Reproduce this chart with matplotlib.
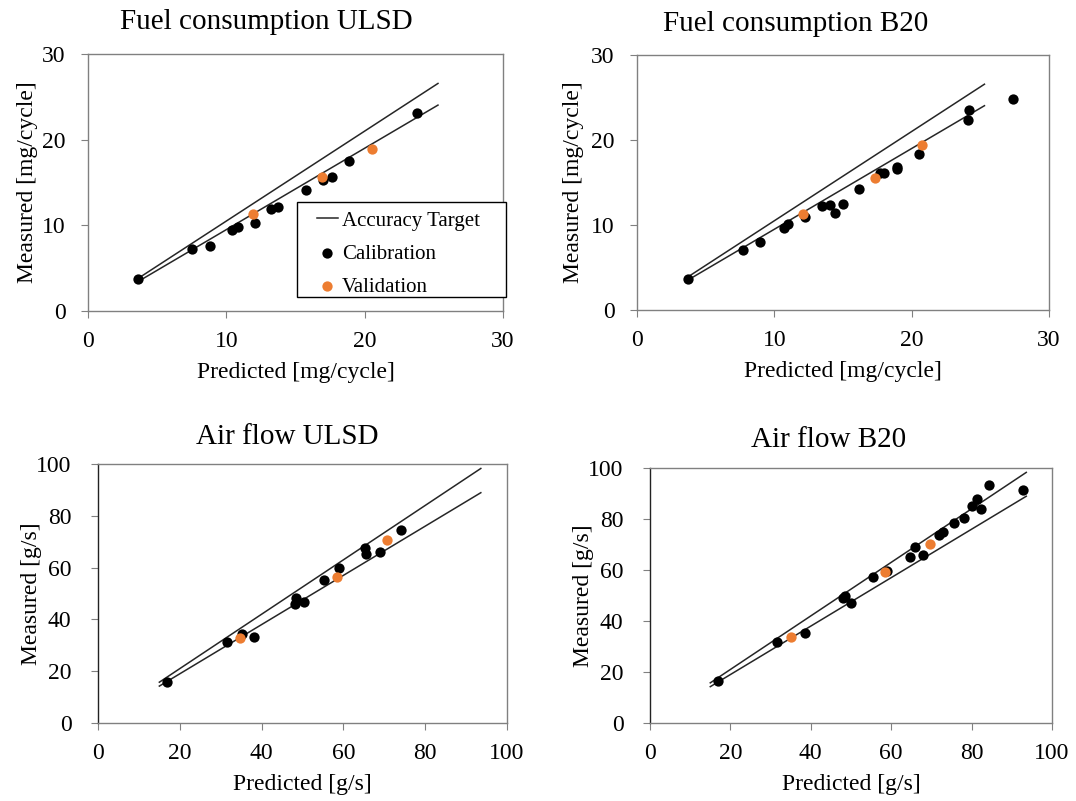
import matplotlib
matplotlib.use("Agg")
import matplotlib.pyplot as plt
from matplotlib.patches import Rectangle
import numpy as np

plt.rcParams['font.family'] = ['Liberation Serif', 'DejaVu Serif']
plt.rcParams['font.size'] = 17

ORANGE = '#ED7D31'
SPINE = '#808080'

# Fuel consumption ULSD [mg/cycle]
fuel_ulsd_cal_pred = [3.64, 7.55, 8.85, 10.39, 10.82, 12.07, 13.21, 13.76, 15.76, 16.99, 17.67, 18.87, 23.81]
fuel_ulsd_cal_meas = [3.70, 7.23, 7.62, 9.45, 9.84, 10.23, 11.86, 12.17, 14.12, 15.29, 15.60, 17.54, 23.07]
fuel_ulsd_val_pred = [11.96, 16.94, 20.56]
fuel_ulsd_val_meas = [11.28, 15.60, 18.87]

# Fuel consumption B20 [mg/cycle]
fuel_b20_cal_pred = [3.68, 7.70, 8.96, 10.71, 11.02, 12.23, 13.44, 14.05, 14.97, 14.39, 16.13,
                     17.68, 17.97, 18.90, 18.90, 20.54, 24.10, 24.20, 27.37]
fuel_b20_cal_meas = [3.60, 7.06, 7.96, 9.61, 10.12, 10.90, 12.27, 12.35, 12.50, 11.37, 14.27,
                     16.16, 16.08, 16.86, 16.60, 18.39, 22.35, 23.53, 24.86]
fuel_b20_val_pred = [12.09, 17.32, 20.78]
fuel_b20_val_meas = [11.29, 15.53, 19.37]

# Air flow ULSD [g/s]
air_ulsd_cal_pred = [16.96, 31.6, 35.3, 38.1, 48.1, 48.5, 50.3, 55.3, 58.9, 65.4, 65.6, 68.9, 74.2]
air_ulsd_cal_meas = [15.8, 31.1, 34.3, 33.3, 46.0, 48.3, 46.8, 55.4, 59.7, 67.5, 65.1, 66.1, 74.7]
air_ulsd_val_pred = [34.7, 58.4, 70.6]
air_ulsd_val_meas = [32.8, 56.2, 70.6]

# Air flow B20 [g/s]
air_b20_cal_pred = [16.9, 31.6, 38.6, 47.9, 48.5, 50.0, 55.4, 59.0, 64.7, 66.0, 68.0, 72.0,
                    72.9, 75.6, 78.1, 80.1, 81.4, 82.3, 84.3, 92.8]
air_b20_cal_meas = [16.4, 31.6, 35.2, 48.9, 49.7, 46.9, 57.4, 59.7, 65.0, 68.9, 65.9, 73.7,
                    74.8, 78.6, 80.5, 85.2, 88.0, 84.0, 93.5, 91.4]
air_b20_val_pred = [35.0, 58.5, 69.6]
air_b20_val_meas = [33.6, 59.3, 70.3]

# accuracy target band (+/- 5 %)
target_x_fuel = [3.7, 25.3]
target_x_air = [15.0, 93.6]
target_hi = 1.05
target_lo = 0.95

W, H = 1076, 801
fig = plt.figure(figsize=(W / 100, H / 100), dpi=100)


def px_axes(left, top, right, bottom):
    return fig.add_axes([left / W, 1 - bottom / H, (right - left) / W, (bottom - top) / H])


panels = [
    dict(box=(88, 54, 503, 311), title='Fuel consumption ULSD', tpos=(266, 22),
         cal=(fuel_ulsd_cal_pred, fuel_ulsd_cal_meas), val=(fuel_ulsd_val_pred, fuel_ulsd_val_meas),
         tx=target_x_fuel, lim=30, step=10, unit='mg/cycle', legend=True, ypad=11, ylpad=3),
    dict(box=(637, 55, 1049, 310), title='Fuel consumption B20', tpos=(796, 24),
         cal=(fuel_b20_cal_pred, fuel_b20_cal_meas), val=(fuel_b20_val_pred, fuel_b20_val_meas),
         tx=target_x_fuel, lim=30, step=10, unit='mg/cycle', legend=False, ypad=11, ylpad=5),
    dict(box=(98, 464, 507, 723), title='Air flow ULSD', tpos=(287, 437),
         cal=(air_ulsd_cal_pred, air_ulsd_cal_meas), val=(air_ulsd_val_pred, air_ulsd_val_meas),
         tx=target_x_air, lim=100, step=20, unit='g/s', legend=False, ypad=14, ylpad=-4.5),
    dict(box=(650, 468, 1052, 723), title='Air flow B20', tpos=(829, 440),
         cal=(air_b20_cal_pred, air_b20_cal_meas), val=(air_b20_val_pred, air_b20_val_meas),
         tx=target_x_air, lim=100, step=20, unit='g/s', legend=False, ypad=14, ylpad=-4.5),
]

for i, p in enumerate(panels):
    ax = px_axes(*p['box'])
    tx = np.array(p['tx'])
    ax.plot(tx, target_hi * tx, color='#262626', lw=1.1, label='Accuracy Target')
    ax.plot(tx, target_lo * tx, color='#262626', lw=1.1)
    ax.scatter(*p['cal'], s=55, color='black', zorder=3, label='Calibration', linewidths=0)
    ax.scatter(*p['val'], s=55, color=ORANGE, zorder=4, label='Validation', linewidths=0)
    ax.set_xlim(0, p['lim'])
    ax.set_ylim(0, p['lim'])
    ticks = np.arange(0, p['lim'] + 1, p['step'])
    ax.set_xticks(ticks)
    ax.set_yticks(ticks)
    for s in ax.spines.values():
        s.set_color(SPINE)
        s.set_linewidth(1.0)
    if i >= 2:
        ax.spines['left'].set_color('#222222')
    ax.tick_params(direction='out', length=5, color=SPINE)
    ax.tick_params(axis='x', pad=9.5)
    ax.tick_params(axis='y', pad=p['ypad'])
    ax.set_xlabel('Predicted [%s]' % p['unit'], labelpad=7)
    ax.set_ylabel('Measured [%s]' % p['unit'], labelpad=p['ylpad'])
    fig.text(p['tpos'][0] / W, 1 - p['tpos'][1] / H, p['title'], ha='center', va='center', fontsize=21)
    if p['legend']:
        # legend box drawn separately to get the wide Excel-style padding
        x0, y0, x1, y1 = 297, 297, 506, 202
        bx, by = p['box'][0], p['box'][3]
        aw, ah = p['box'][2] - bx, by - p['box'][1]
        ax.add_patch(Rectangle(((x0 - bx) / aw, (by - y0) / ah), (x1 - x0) / aw, (y0 - y1) / ah,
                               transform=ax.transAxes, facecolor='white', edgecolor='black',
                               lw=1.0, zorder=5, clip_on=False))
        leg = ax.legend(loc='center left', bbox_to_anchor=((317 - bx) / aw, (by - 254) / ah),
                        borderaxespad=0, borderpad=0, frameon=False, handlelength=1.0,
                        handletextpad=0.2, labelspacing=0.65, fontsize=15)
        leg.set_zorder(6)

fig.savefig('out.png', dpi=100)
